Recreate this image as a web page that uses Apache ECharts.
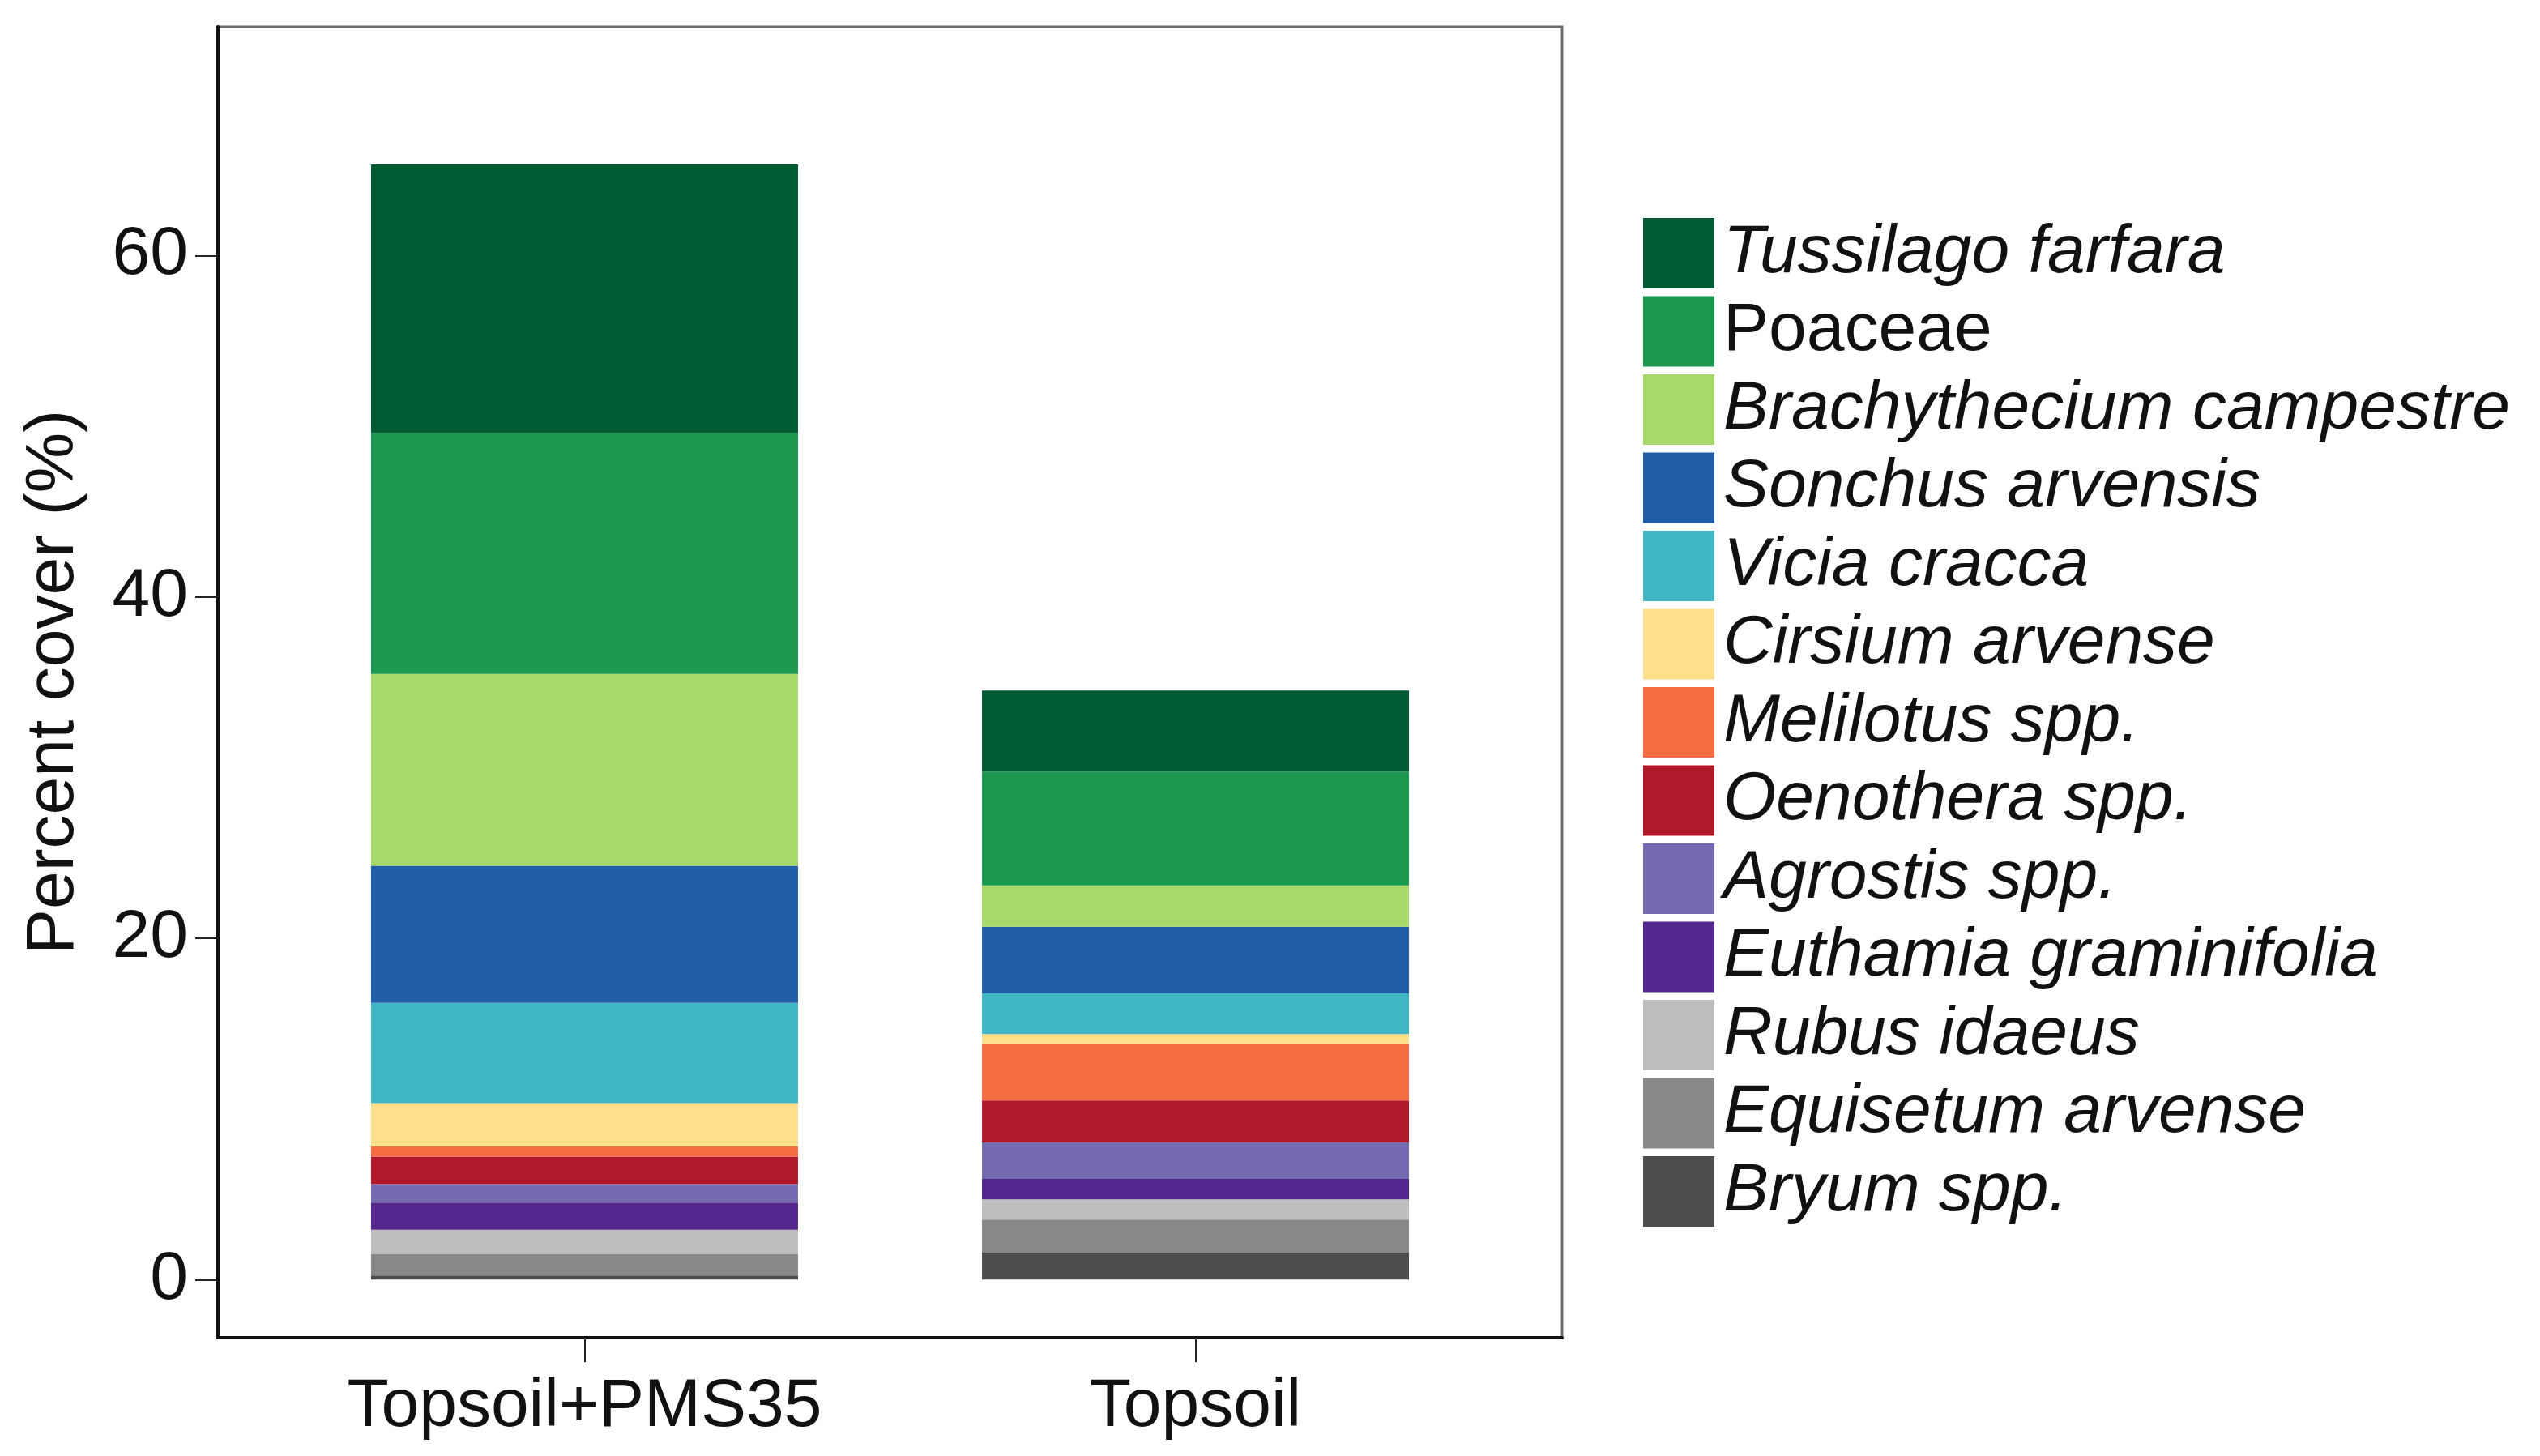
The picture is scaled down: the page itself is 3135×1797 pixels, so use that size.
<!DOCTYPE html>
<html>
<head>
<meta charset="utf-8">
<script src="https://cdn.jsdelivr.net/npm/echarts@6/dist/echarts.min.js"></script>
<style>
html,body{margin:0;padding:0;background:#fff;}
#chart{width:3135px;height:1797px;}
</style>
</head>
<body>
<div id="chart"></div>
<script>
// ---- data ----
var categories = ['Topsoil+PMS35', 'Topsoil'];
var categoryPositions = [1, 2];
var species = ['Tussilago farfara', 'Poaceae', 'Brachythecium campestre', 'Sonchus arvensis',
  'Vicia cracca', 'Cirsium arvense', 'Melilotus spp.', 'Oenothera spp.', 'Agrostis spp.',
  'Euthamia graminifolia', 'Rubus idaeus', 'Equisetum arvense', 'Bryum spp.'];
var topsoilPMS35 = [15.75, 14.09, 11.24, 8.04, 5.87, 2.54, 0.59, 1.61, 1.08, 1.59, 1.42, 1.27, 0.24];
var topsoil      = [4.76, 6.65, 2.42, 3.91, 2.38, 0.55, 3.35, 2.45, 2.14, 1.19, 1.19, 1.94, 1.58];
var colors = ['#005a32', '#1a9850', '#a6d96a', '#225ea8', '#41b6c4', '#fee08b', '#f46d43',
  '#b2182b', '#756bb1', '#54278f', '#bdbdbd', '#888888', '#4d4d4d'];
var nonItalic = ['Poaceae'];
var yTicks = [0, 20, 40, 60];

var FONT = "'Liberation Sans', Arial, sans-serif";

// stacked bottom-up: last species at bottom
// data items are [cover, position]; encode maps dim 0 -> y (stacked), dim 1 -> x
var series = [];
for (var i = species.length - 1; i >= 0; i--) {
  series.push({
    name: species[i],
    type: 'bar',
    stack: 'total',
    barWidth: 527,
    encode: { x: 1, y: 0 },
    itemStyle: { color: colors[i] },
    emphasis: { disabled: true },
    data: [[topsoilPMS35[i], categoryPositions[0]], [topsoil[i], categoryPositions[1]]]
  });
}

var chart = echarts.init(document.getElementById('chart'), null, { renderer: 'canvas' });
chart.setOption({
  animation: false,
  backgroundColor: '#ffffff',
  textStyle: { fontFamily: FONT },
  grid: {
    left: 269, top: 33, right: 1207, bottom: 146,
    show: true, borderColor: '#6e6e6e', borderWidth: 3, backgroundColor: 'transparent'
  },
  xAxis: {
    type: 'value',
    min: 0.4, max: 2.6,
    axisLine: { show: true, onZero: false, lineStyle: { color: '#111', width: 4 } },
    axisTick: { show: true, customValues: categoryPositions, length: 30, lineStyle: { color: '#222', width: 2 } },
    axisLabel: {
      customValues: categoryPositions,
      margin: 44,
      fontSize: 84, color: '#111', fontFamily: FONT,
      formatter: function (v) { return categories[Math.round(v) - 1] || ''; }
    },
    splitLine: { show: false }
  },
  yAxis: {
    type: 'value',
    min: -3.4, max: 73.4,
    name: 'Percent cover (%)',
    nameLocation: 'middle',
    nameGap: 160,
    nameTextStyle: { fontSize: 84, color: '#111', fontFamily: FONT },
    axisLine: { show: true, onZero: false, lineStyle: { color: '#111', width: 4 } },
    axisTick: { show: true, customValues: yTicks, length: 28, lineStyle: { color: '#222', width: 2 } },
    axisLabel: { customValues: yTicks, margin: 37, fontSize: 84, color: '#111', fontFamily: FONT },
    splitLine: { show: false }
  },
  legend: {
    data: species,
    orient: 'vertical',
    left: 2023, top: 264,
    icon: 'rect',
    itemWidth: 88, itemHeight: 87, itemGap: 9.5,
    selectedMode: false,
    formatter: function (name) {
      return (nonItalic.indexOf(name) >= 0 ? '{n|' : '{i|') + name + '}';
    },
    textStyle: {
      fontSize: 84, color: '#111', fontFamily: FONT,
      rich: {
        i: { fontStyle: 'italic', fontSize: 84, fontFamily: FONT, color: '#111', padding: [0, 0, 0, 6] },
        n: { fontStyle: 'normal', fontSize: 84, fontFamily: FONT, color: '#111', padding: [0, 0, 0, 6] }
      }
    }
  },
  series: series
});
</script>
</body>
</html>
